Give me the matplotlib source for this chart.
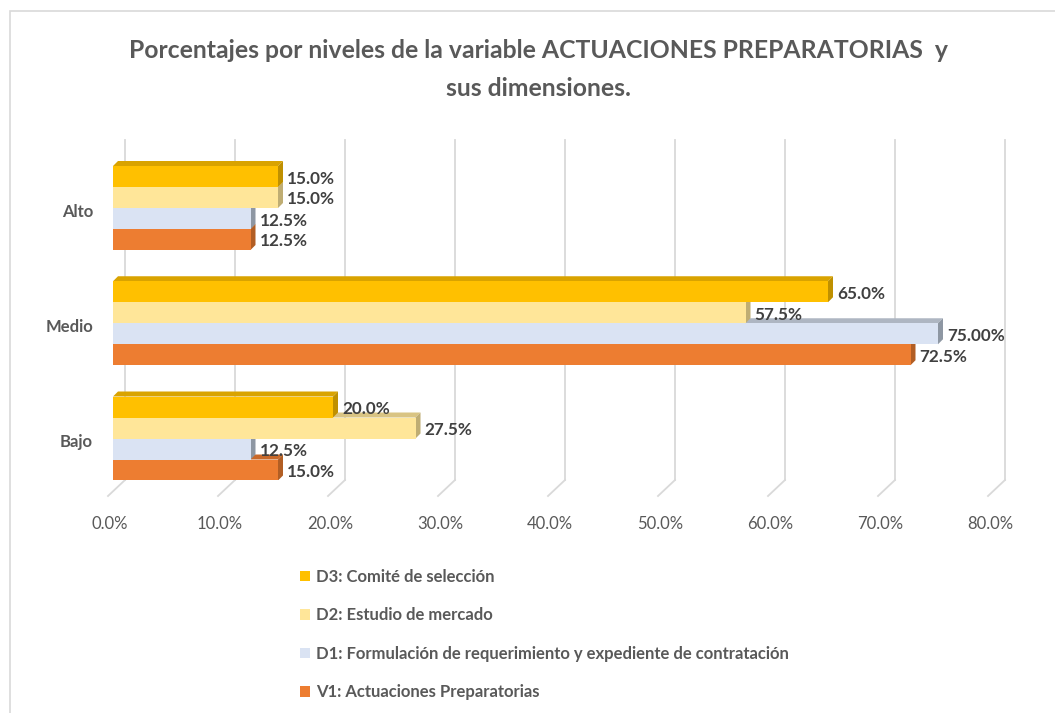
import matplotlib.pyplot as plt
from matplotlib.patches import Polygon, Patch, Rectangle
from matplotlib.transforms import offset_copy

# Data
categories = ["Alto", "Medio", "Bajo"]
series_names = [
    "D3: Comité de selección",
    "D2: Estudio de mercado",
    "D1: Formulación de requerimiento y expediente de contratación",
    "V1: Actuaciones Preparatorias",
]
d3 = [15.0, 65.0, 20.0]
d2 = [15.0, 57.5, 27.5]
d1 = [12.5, 75.0, 12.5]
v1 = [12.5, 72.5, 15.0]
labels_d3 = ["15.0%", "65.0%", "20.0%"]
labels_d2 = ["15.0%", "57.5%", "27.5%"]
labels_d1 = ["12.5%", "75.00%", "12.5%"]
labels_v1 = ["12.5%", "72.5%", "15.0%"]
xticks = [0, 10, 20, 30, 40, 50, 60, 70, 80]

values = [d3, d2, d1, v1]
labels = [labels_d3, labels_d2, labels_d1, labels_v1]
front = ["#FFC000", "#FFE699", "#DAE3F3", "#ED7D31"]
side = ["#BF9000", "#BFAD73", "#8E97A3", "#B25E24"]
top = ["#D9A300", "#D9C483", "#AEB6C2", "#C9692A"]

FONT = "Lato"
GRAY = "#595959"
DARK = "#404040"

W, H = 1055, 713
fig = plt.figure(figsize=(W / 100, H / 100), dpi=100)
fig.patch.set_facecolor("white")

# outer frame
fig.add_artist(Rectangle((10 / W, -0.01), 1.1, (H - 11) / H + 0.01, transform=fig.transFigure,
                         fill=False, edgecolor="#D9D9D9", linewidth=1.2))

# axes: x 0..80 mapped to pixels 113..993, y pixels 140..480
ax_l, ax_r, ax_t, ax_b = 113, 993, 140, 480
ax = fig.add_axes([ax_l / W, 1 - ax_b / H, (ax_r - ax_l) / W, (ax_b - ax_t) / H])
px_per_cat = 115.25
y_top = (ax_t - 208) / px_per_cat
y_bot = (ax_b - 208) / px_per_cat
ax.set_xlim(0, 80)
ax.set_ylim(y_bot, y_top)
ax.axis("off")

xpx = 80 / (ax_r - ax_l)        # data units per pixel (x)
ypx = (y_bot - y_top) / (ax_b - ax_t)  # data units per pixel (y)

# back-wall gridlines + floor diagonals
for t in xticks:
    back = offset_copy(ax.transData, fig=fig, x=12, y=0, units="dots")
    ax.plot([t, t], [y_top, y_bot], color="#D9D9D9", lw=1.3, transform=back, clip_on=False, zorder=0)
    ax.plot([t + 12 * xpx, t - 5 * xpx], [y_bot, y_bot + 16 * ypx], color="#D9D9D9", lw=1.3,
            clip_on=False, zorder=0)
    ax.text(t - 3 * xpx, y_bot + 44 * ypx, f"{t:.1f}%", ha="center", va="center",
            fontsize=12, color=GRAY, family=FONT)

h = 21 / px_per_cat
dx = 5 * xpx
dy = 5 * ypx
offsets = [-1.5, -0.5, 0.5, 1.5]

# draw bottom series first so the bar above hides the top face
for s in [3, 2, 1, 0]:
    for i, cat in enumerate(categories):
        v = values[s][i]
        yc = i + offsets[s] * h
        y0, y1 = yc - h / 2, yc + h / 2
        ax.add_patch(Polygon([(0, y0), (dx, y0 - dy), (v + dx, y0 - dy), (v, y0)],
                             closed=True, facecolor=top[s], edgecolor="none", zorder=2 + (3 - s)))
        ax.add_patch(Polygon([(v, y0), (v + dx, y0 - dy), (v + dx, y1 - dy), (v, y1)],
                             closed=True, facecolor=side[s], edgecolor="none", zorder=2 + (3 - s)))
        ax.barh(yc, v, height=h, color=front[s], edgecolor="none", zorder=2 + (3 - s))
        ax.text(v + 9 * xpx, yc + 2 * ypx, labels[s][i], ha="left", va="center",
                fontsize=12.3, fontweight="bold", color=DARK, family=FONT, zorder=10)

for i, cat in enumerate(categories):
    ax.text(-20 * xpx, i + 4 * ypx, cat, ha="right", va="center", fontsize=12,
            fontweight="bold", color=GRAY, family=FONT)

fig.text(538 / W, 1 - 50 / H, "Porcentajes por niveles de la variable ACTUACIONES PREPARATORIAS  y",
         ha="center", va="center", fontsize=17.8, fontweight="bold", color=GRAY, family=FONT)
fig.text(538 / W, 1 - 89 / H, "sus dimensiones.", ha="center", va="center",
         fontsize=17.8, fontweight="bold", color=GRAY, family=FONT)

handles = [Patch(facecolor=c, edgecolor="none") for c in front]
leg = fig.legend(handles, series_names, loc="upper left", bbox_to_anchor=(285 / W, 1 - 554 / H),
                 frameon=False, handlelength=0.6, handleheight=0.6, handletextpad=0.35,
                 labelspacing=1.35, prop={"family": FONT, "weight": "bold", "size": 12})
for t in leg.get_texts():
    t.set_color(GRAY)

fig.savefig("out.png", dpi=100)
